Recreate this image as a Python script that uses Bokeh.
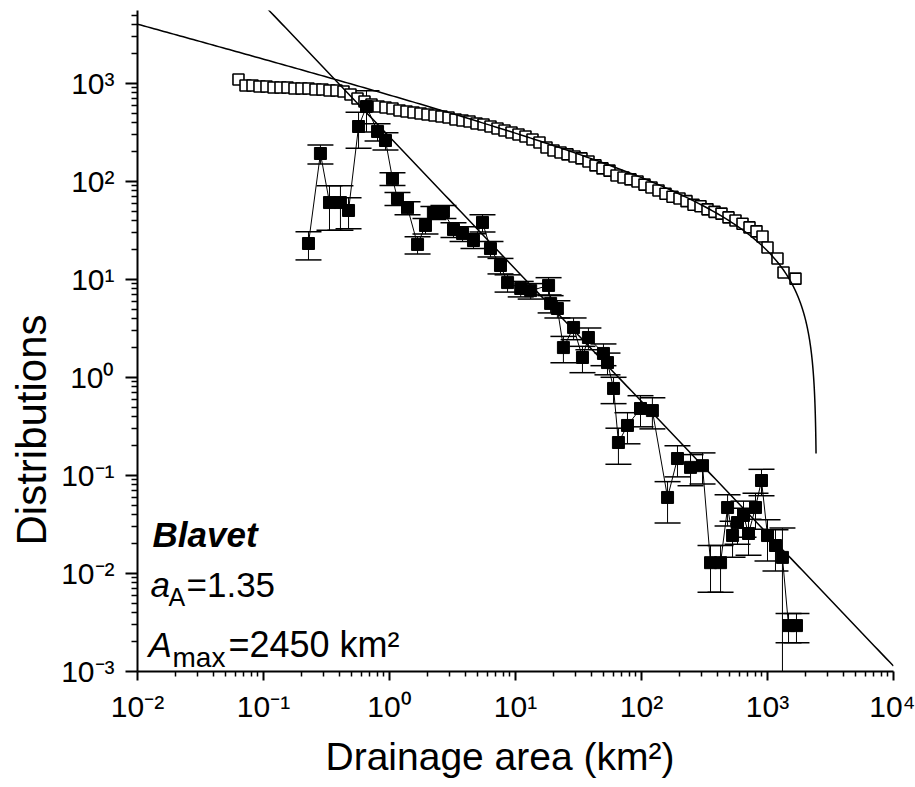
import numpy as np
from bokeh.plotting import figure
from bokeh.models import Range1d, FixedTicker, Label, Whisker, TeeHead, ColumnDataSource, Title
from bokeh.embed import file_html
from bokeh.resources import INLINE

# ---------------- data ----------------
# cumulative distribution (open squares)
cum_area = [0.0633, 0.0720, 0.0818, 0.0929, 0.1056, 0.1201, 0.1364, 0.1550, 0.1762, 0.2002,
            0.2275, 0.2586, 0.2938, 0.3340, 0.3795, 0.4313, 0.4902, 0.5570, 0.6331, 0.7195,
            0.8178, 0.9296, 1.056, 1.200, 1.364, 1.550, 1.762, 2.002, 2.276, 2.586,
            2.939, 3.340, 3.796, 4.314, 4.903, 5.572, 6.333, 7.196, 8.178, 9.296,
            10.56, 12.00, 13.64, 15.50, 17.62, 20.02, 22.76, 25.86, 29.39, 33.40,
            37.96, 43.14, 49.03, 55.72, 63.33, 71.96, 81.78, 92.96, 105.6, 120.0,
            136.4, 155.0, 176.2, 200.2, 227.6, 258.6, 293.9, 334.0, 379.6, 431.4,
            490.3, 557.2, 633.3, 719.6, 817.8, 912.9, 1000, 1200, 1340, 1668]
cum_value = [1099, 954, 954, 932, 932, 910, 910, 910, 889, 889,
             889, 869, 869, 849, 849, 829, 773, 703, 655, 611,
             582, 569, 556, 530, 518, 506, 494, 483, 471, 460,
             450, 429, 419, 409, 391, 382, 364, 348, 332, 316,
             302, 288, 268, 250, 222, 207, 198, 189, 180, 172,
             160, 146, 136, 129, 115, 110, 105, 100, 93, 87,
             81, 75, 70, 67, 63, 58, 56, 52, 49, 47,
             43, 40, 37, 34, 31, 27.5, 21.2, 16.4, 11.8, 10.2]

# probability density (filled squares) with relative error bars
pdf_area = [0.2275, 0.283, 0.334, 0.408, 0.473, 0.568, 0.657, 0.804, 0.929, 1.056,
            1.157, 1.39, 1.67, 1.93, 2.23, 2.68, 3.22, 3.80, 4.64, 5.47,
            6.33, 7.60, 8.65, 11.0, 13.2, 18.3, 19.0, 21.5, 24.0, 28.9,
            34.0, 37.9, 49.9, 53.7, 60.0, 65.6, 77.4, 98.2, 122, 161,
            193, 245, 305, 353, 424, 482, 528, 578, 645, 707,
            803, 896, 1000, 1157, 1314, 1469, 1698]
pdf_value = [23.3, 193, 61, 61, 50.6, 364, 582, 324, 262, 107,
             67, 54, 22.8, 35.6, 48.3, 49.4, 32.4, 29.5, 25.0, 38.2,
             20.7, 13.9, 9.3, 8.1, 7.7, 8.7, 5.7, 5.06, 2.02, 3.24,
             1.60, 2.56, 1.76, 1.42, 0.773, 0.217, 0.324, 0.483, 0.460, 0.0597,
             0.149, 0.121, 0.126, 0.0129, 0.0129, 0.0471, 0.0244, 0.0331, 0.0391, 0.0256,
             0.0471, 0.0889, 0.0244, 0.0193, 0.0146, 0.00294, 0.00294]
pdf_rel_err = [0.32, 0.22, 0.48, 0.48, 0.35, 0.4, 0.45, 0.2, 0.2, 0.15,
               0.15, 0.15, 0.2, 0.18, 0.15, 0.15, 0.17, 0.17, 0.17, 0.2,
               0.18, 0.18, 0.2, 0.18, 0.18, 0.2, 0.2, 0.2, 0.3, 0.25,
               0.3, 0.25, 0.25, 0.25, 0.3, 0.4, 0.35, 0.35, 0.35, 0.45,
               0.35, 0.35, 0.35, 0.5, 0.5, 0.35, 0.4, 0.4, 0.4, 0.4,
               0.4, 0.3, 0.45, 0.45, 0.99, 0.33, 0.33]

# fitted model (parameters shown on the chart)
a_A = 1.35
A_max = 2450.0
cum_norm = 815.0          # normalisation of the cumulative fit
curve_end = 2428.0        # where the drawn cumulative curve stops

x_ticks = [1e-2, 1e-1, 1e0, 1e1, 1e2, 1e3, 1e4]
x_tick_labels = ["10⁻²", "10⁻¹", "10⁰", "10¹", "10²", "10³", "10⁴"]
y_ticks = [1e-3, 1e-2, 1e-1, 1e0, 1e1, 1e2, 1e3]
y_tick_labels = ["10⁻³", "10⁻²", "10⁻¹", "10⁰", "10¹", "10²", "10³"]
x_title = "Drainage area (km²)"
y_title = "Distributions"

# ---------------- figure ----------------
FONT = "Liberation Sans"
W, H = 915, 787
X0_PX, X1_PX = 137.0, 893.0   # page px of 10^-2 and 10^4
Y0_PX, Y_DEC = 671.0, 98.0    # page px of 10^-3, px per decade
TOP_PX = 10.0
X_DEC = (X1_PX - X0_PX) / 6.0
y_top = 10 ** (-3 + (Y0_PX - TOP_PX) / Y_DEC)

p = figure(width=W, height=H, x_axis_type="log", y_axis_type="log",
           x_range=Range1d(1e-2, 1e4), y_range=Range1d(1e-3, y_top),
           output_backend="svg", toolbar_location=None,
           min_border_left=int(X0_PX), min_border_right=int(W - X1_PX),
           min_border_top=int(TOP_PX), min_border_bottom=int(H - Y0_PX))
p.outline_line_color = None
p.grid.visible = False
p.background_fill_color = "white"
p.border_fill_color = "white"

x_minor = [m * 10.0 ** e for e in range(-2, 4) for m in range(2, 10)]
y_minor = [m * 10.0 ** e for e in range(-3, 4) for m in range(2, 10)]
p.xaxis.ticker = FixedTicker(ticks=x_ticks, minor_ticks=x_minor)
p.yaxis.ticker = FixedTicker(ticks=y_ticks, minor_ticks=y_minor)
p.xaxis.major_label_overrides = dict(zip(x_ticks, x_tick_labels))
p.yaxis.major_label_overrides = dict(zip(y_ticks, y_tick_labels))

for ax in (p.xaxis, p.yaxis):
    ax.axis_line_width = 2
    ax.axis_line_color = "black"
    ax.major_tick_line_width = 2
    ax.minor_tick_line_width = 1.5
    ax.major_tick_in = 0
    ax.minor_tick_in = 0
    ax.major_label_text_font = FONT
    ax.major_label_text_font_size = "30px"
    ax.major_label_text_color = "black"
p.xaxis.major_tick_out = 9
p.xaxis.minor_tick_out = 5
p.yaxis.major_tick_out = 12
p.yaxis.minor_tick_out = 6
p.xaxis.major_label_standoff = 9
p.yaxis.major_label_standoff = 11

# axis titles as side-panel titles, so they can sit off-centre like in the original
p.add_layout(Title(text=y_title, align="left", offset=126, standoff=8,
                   text_font=FONT, text_font_size="42px", text_font_style="normal",
                   text_color="black"), "left")
p.add_layout(Title(text=x_title, align="left", offset=188, standoff=15,
                   text_font=FONT, text_font_size="39px", text_font_style="normal",
                   text_color="black"), "below")

# cumulative data (open squares)
p.scatter(cum_area, cum_value, marker="square", size=11, fill_color="white",
          line_color="black", line_width=1.6)

# pdf data: connecting line, error bars, filled squares
lo = [v * (1 - r) for v, r in zip(pdf_value, pdf_rel_err)]
hi = [v * (1 + r) for v, r in zip(pdf_value, pdf_rel_err)]
src = ColumnDataSource(dict(x=pdf_area, y=pdf_value, lo=lo, hi=hi))
p.line("x", "y", source=src, line_color="black", line_width=1)
p.add_layout(Whisker(source=src, base="x", lower="lo", upper="hi", dimension="height",
                     line_color="black", line_width=1,
                     upper_head=TeeHead(size=26, line_width=1.5, line_color="black"),
                     lower_head=TeeHead(size=26, line_width=1.5, line_color="black")))
p.scatter("x", "y", source=src, marker="square", size=12, fill_color="black",
          line_color="black", line_width=1)

# fitted power-law pdf and the matching truncated cumulative curve
A_fit = np.logspace(-2, 4, 200)
p.line(A_fit, (a_A - 1) * cum_norm * A_fit ** (-a_A), line_color="black", line_width=1.5)
A_c = np.concatenate([np.logspace(-2, np.log10(1500), 200),
                      np.linspace(1500, curve_end, 200)[1:]])
p.line(A_c, cum_norm * (A_c ** (1 - a_A) - A_max ** (1 - a_A)), line_color="black", line_width=1.5)

# annotation block (positions given in page pixels, converted to data coordinates)
def dx(px):
    return 10 ** (-2 + (px - X0_PX) / X_DEC)

def dy(py):
    return 10 ** (-3 + (Y0_PX - py) / Y_DEC)

def lab(px, py, text, size, style="normal"):
    p.add_layout(Label(x=dx(px), y=dy(py), text=text, text_font=FONT,
                       text_font_size=size, text_font_style=style,
                       text_baseline="alphabetic", text_align="left", text_color="black"))

lab(152, 534, "Blavet", "35px", "bold italic")
lab(150, 584, "a", "35px", "italic")
lab(168, 596, "A", "25px")
lab(186, 584, "=1.35", "35px")
lab(148, 644, "A", "35px", "italic")
lab(172, 657, "max", "28px")
lab(228, 644, "=2450 km²", "36px")

open("out.html", "w").write(file_html(p, INLINE))
